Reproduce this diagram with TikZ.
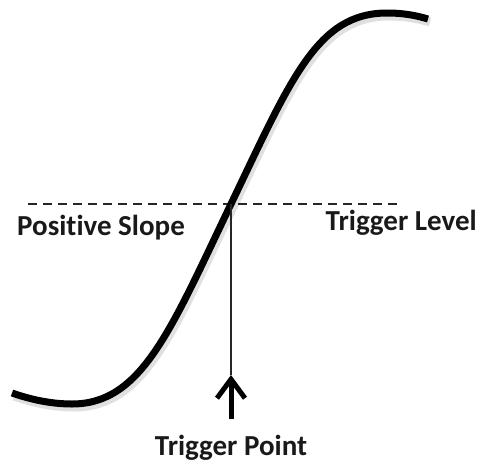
\documentclass[tikz,border=0pt]{standalone}
\usepackage{fontspec}
\setmainfont{Carlito}[Ligatures=NoCommon]
\usetikzlibrary{arrows.meta}
\begin{document}
\begin{tikzpicture}[x=1pt,y=-1pt,
  curvestyle/.style={line width=7pt, line cap=butt, black},
  shadowstyle/.style={line width=9pt, black, opacity=0.12},
  levelstyle/.style={line width=2pt, dash pattern=on 9pt off 6pt, black!85},
  droplinestyle/.style={line width=1.5pt, black!85},
  arrowstyle/.style={line width=5pt, black, -{Straight Barb[length=19pt, width=28pt]}},
  labelstyle/.style={font=\bfseries\fontsize{29}{34}\selectfont, inner sep=0pt, text=black!90}]
\useasboundingbox (0,0) rectangle (480,464);
\def\sigpath{(12,393) .. controls (35,401) and (55,404) .. (72,404) .. controls (142,404) and (171,329) .. (231,204) .. controls (291,79) and (317,13) .. (387,13) .. controls (405,13) and (418,16) .. (428,19)}
% shadow of the curve
\begin{scope}[shift={(2,3)}]
\draw[shadowstyle] \sigpath;
\end{scope}
% level line
\coordinate (dl) at (28,204);
\coordinate (dr) at (402,204);
\draw[levelstyle] (dl) -- (dr);
% curve
\draw[curvestyle] \sigpath;
\coordinate (cross) at (231,204);
\coordinate (tip) at (231,375);
\draw[droplinestyle] (cross) -- (tip);
% labels
\node[labelstyle, anchor=base west] (ps) at (17,235) {Posit\kern0pt ive Slope};
\node[labelstyle, anchor=base east] (tl) at (477,230) {Trigger Level};
\node[labelstyle, anchor=base] (tp) at (231,455) {Trigger Point};
\draw[arrowstyle, shorten <=15pt] (tp.north) -- (tip);
\end{tikzpicture}
\end{document}
